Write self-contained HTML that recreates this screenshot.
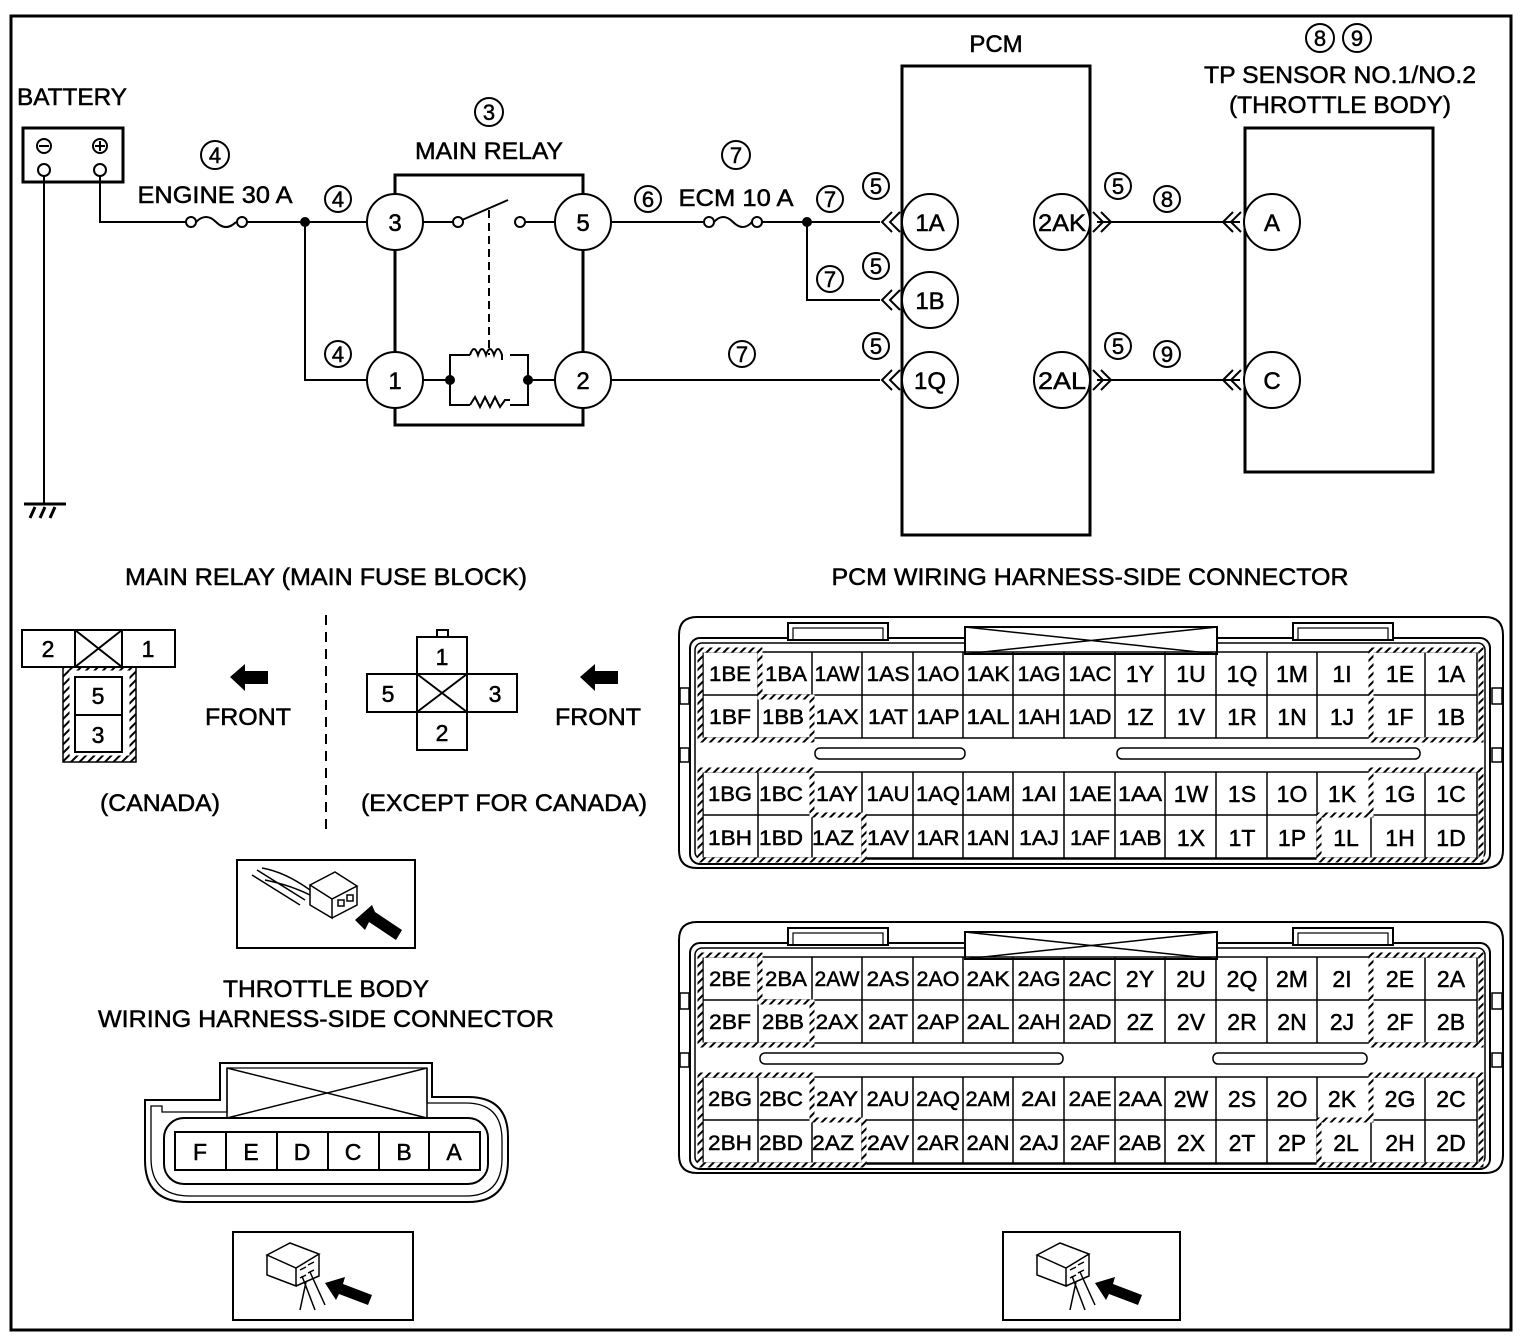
<!DOCTYPE html>
<html><head><meta charset="utf-8"><style>
html,body{margin:0;padding:0;background:#fff}
svg{display:block}
text{font-family:"Liberation Sans",Arial,sans-serif;fill:#000;stroke:#000;stroke-width:0.5}
.c{text-anchor:middle}
.p{font-size:21px;text-anchor:middle}
</style></head><body>
<svg width="1526" height="1342" viewBox="0 0 1526 1342" xmlns="http://www.w3.org/2000/svg">
<defs>
<pattern id="h" width="6" height="6" patternUnits="userSpaceOnUse" patternTransform="rotate(45)">
<rect width="6" height="6" fill="#fff"/><rect width="2" height="6" fill="#000"/></pattern>
<g id="shell" fill="none" stroke="#000">
<path d="M697,617 H1485 Q1503,617 1503,635 V850 Q1503,868 1485,868 H697 Q679,868 679,850 V635 Q679,617 697,617 Z" stroke-width="2"/>
<rect x="680" y="688" width="9" height="16" fill="#fff" stroke-width="1.5"/>
<rect x="680" y="748" width="9" height="14" fill="#fff" stroke-width="1.5"/>
<rect x="1492" y="688" width="10" height="16" fill="#fff" stroke-width="1.5"/>
<rect x="1492" y="748" width="10" height="14" fill="#fff" stroke-width="1.5"/>
<rect x="690" y="638" width="800" height="226" rx="10" stroke-width="2"/>
<rect x="695" y="643" width="790" height="216" rx="7" stroke-width="1.5"/>
<rect x="788" y="623" width="100" height="17" stroke-width="2" fill="#fff"/>
<rect x="793" y="628" width="90" height="12" stroke-width="1.2"/>
<rect x="1293" y="623" width="100" height="17" stroke-width="2" fill="#fff"/>
<rect x="1298" y="628" width="90" height="12" stroke-width="1.2"/>
<rect x="965" y="627" width="252" height="27" stroke-width="2" fill="#fff"/>
<path d="M965,654 L1217,627 M965,627 L1217,654" stroke-width="1.5"/>
<path d="M703,652 H1477 M703,695 H1477 M703,738 H1477 M703,772 H1477 M703,815 H1477 M703,858 H1477" stroke-width="1.5"/>
<path d="M703,652V738M758,652V738M812,652V738M862,652V738M913,652V738M963,652V738M1013,652V738M1064,652V738M1115,652V738M1165,652V738M1216,652V738M1267,652V738M1317,652V738M1371,652V738M1425,652V738M1477,652V738" stroke-width="1.5"/>
<path d="M703,772V858M758,772V858M812,772V858M862,772V858M913,772V858M963,772V858M1013,772V858M1064,772V858M1115,772V858M1165,772V858M1216,772V858M1267,772V858M1317,772V858M1371,772V858M1425,772V858M1477,772V858" stroke-width="1.5"/>
<g stroke="url(#h)" stroke-width="5">
<path d="M700,650 H760 V697 H812 V740 H700 Z"/>
<path d="M1371,650 H1481 V740 H1371 Z"/>
<path d="M700,770 H812 V815 H864 V860 H700 Z"/>
<path d="M1371,770 H1481 V860 H1319 V815 H1371 Z"/>
</g>
</g>
</defs>

<rect x="11" y="16" width="1500" height="1314" fill="none" stroke="#000" stroke-width="3"/>

<g fill="none" stroke="#000" stroke-width="2">
<rect x="23" y="128" width="100" height="54" stroke-width="3"/>
<circle cx="44" cy="146" r="7"/><path d="M39,146H49"/>
<circle cx="100" cy="146" r="7"/><path d="M95,146H105M100,141V151"/>
<circle cx="44" cy="170" r="6" fill="#fff"/><circle cx="100" cy="170" r="6" fill="#fff"/>
<path d="M44,176V504"/>
<path d="M24,504H66" stroke-width="3"/>
<path d="M30,518L35,507M40,518L45,507M50,518L55,507" stroke-width="3"/>
<path d="M100,176V222H186"/>
<circle cx="191" cy="222" r="5"/><path d="M196,222 Q206,212 216,222 Q226,232 236,222"/><circle cx="242" cy="222" r="5"/>
<path d="M247,222H367"/>
<path d="M305,222V380H367"/>
<rect x="395" y="175" width="188" height="250" stroke-width="3"/>
<circle cx="395" cy="222" r="28" fill="#fff"/><circle cx="583" cy="222" r="28" fill="#fff"/>
<circle cx="395" cy="380" r="28" fill="#fff"/><circle cx="583" cy="380" r="28" fill="#fff"/>
<path d="M423,222H453"/><circle cx="458" cy="222" r="5"/><path d="M462,220L508,200"/><circle cx="520" cy="222" r="5"/><path d="M525,222H555"/>
<path d="M489,210V355" stroke-dasharray="8 5"/>
<path d="M423,380H450V355H470 M450,380V405H470 M510,355H528V380H555 M510,405H528V380"/>
<path d="M470,355 q4,-12 8,0 q4,-12 8,0 q4,-12 8,0 q4,-12 8,0 v5"/>
<path d="M470,405 l5,-8 l5,10 l5,-10 l5,10 l5,-10 l5,10 l5,-7 h5"/>
<path d="M611,222H705"/>
<circle cx="709" cy="222" r="5"/><path d="M714,222 Q723,212 733,222 Q743,232 752,222"/><circle cx="757" cy="222" r="5"/>
<path d="M762,222H880 M807,222V300H880 M611,380H880"/>
<rect x="902" y="66" width="188" height="469" stroke-width="3"/>
<rect x="1245" y="128" width="188" height="344" stroke-width="3"/>
<circle cx="930" cy="222" r="28" fill="#fff"/><circle cx="930" cy="300" r="28" fill="#fff"/><circle cx="930" cy="380" r="28" fill="#fff"/>
<circle cx="1062" cy="222" r="28" fill="#fff"/><circle cx="1062" cy="380" r="28" fill="#fff"/>
<circle cx="1272" cy="222" r="28" fill="#fff"/><circle cx="1272" cy="380" r="28" fill="#fff"/>
<path d="M1097,222H1240 M1097,380H1240"/>
</g>
<g fill="#000">
<circle cx="305" cy="222" r="5"/><circle cx="807" cy="222" r="5"/>
<circle cx="450" cy="380" r="5"/><circle cx="528" cy="380" r="5"/>
</g>
<g fill="none" stroke="#000" stroke-width="2">
<path d="M892,212L882,222L892,232M900,212L890,222L900,232"/>
<path d="M892,290L882,300L892,310M900,290L890,300L900,310"/>
<path d="M892,370L882,380L892,390M900,370L890,380L900,390"/>
<path d="M1093,212L1103,222L1093,232M1101,212L1111,222L1101,232"/>
<path d="M1093,370L1103,380L1093,390M1101,370L1111,380L1101,390"/>
<path d="M1233,212L1223,222L1233,232M1241,212L1231,222L1241,232"/>
<path d="M1233,370L1223,380L1233,390M1241,370L1231,380L1241,390"/>
</g>
<g font-size="24">
<text x="395" y="231" class="c">3</text><text x="583" y="231" class="c">5</text>
<text x="395" y="389" class="c">1</text><text x="583" y="389" class="c">2</text>
<text x="930" y="231" class="c">1A</text><text x="930" y="309" class="c">1B</text><text x="930" y="389" class="c">1Q</text>
<text x="1062" y="231" class="c" textLength="48" lengthAdjust="spacingAndGlyphs">2AK</text>
<text x="1062" y="389" class="c" textLength="48" lengthAdjust="spacingAndGlyphs">2AL</text>
<text x="1272" y="231" class="c">A</text><text x="1272" y="389" class="c">C</text>
</g>
<g fill="none" stroke="#000" stroke-width="2">
<circle cx="215" cy="155" r="14"/><circle cx="338" cy="199" r="13"/><circle cx="489" cy="112" r="14"/>
<circle cx="648" cy="199" r="13"/><circle cx="736" cy="155" r="14"/><circle cx="830" cy="199" r="13"/>
<circle cx="876" cy="186" r="13"/><circle cx="830" cy="279" r="13"/><circle cx="876" cy="266" r="13"/>
<circle cx="338" cy="354" r="13"/><circle cx="742" cy="354" r="13"/><circle cx="876" cy="346" r="13"/>
<circle cx="1118" cy="186" r="13"/><circle cx="1167" cy="199" r="13"/><circle cx="1118" cy="346" r="13"/><circle cx="1167" cy="354" r="13"/>
<circle cx="1320" cy="38" r="14"/><circle cx="1357" cy="38" r="14"/>
</g>
<g font-size="22" text-anchor="middle">
<text x="215" y="163">4</text><text x="338" y="207">4</text><text x="489" y="120">3</text>
<text x="648" y="207">6</text><text x="736" y="163">7</text><text x="830" y="207">7</text>
<text x="876" y="194">5</text><text x="830" y="287">7</text><text x="876" y="274">5</text>
<text x="338" y="362">4</text><text x="742" y="362">7</text><text x="876" y="354">5</text>
<text x="1118" y="194">5</text><text x="1167" y="207">8</text><text x="1118" y="354">5</text><text x="1167" y="362">9</text>
<text x="1320" y="46">8</text><text x="1357" y="46">9</text>
</g>
<g font-size="24">
<text x="17" y="105" textLength="110" lengthAdjust="spacingAndGlyphs">BATTERY</text>
<text x="215" y="203" class="c" textLength="155" lengthAdjust="spacingAndGlyphs">ENGINE 30 A</text>
<text x="489" y="159" class="c" textLength="148" lengthAdjust="spacingAndGlyphs">MAIN RELAY</text>
<text x="736" y="206" class="c" textLength="115" lengthAdjust="spacingAndGlyphs">ECM 10 A</text>
<text x="996" y="52" class="c">PCM</text>
<text x="1340" y="83" class="c" textLength="272" lengthAdjust="spacingAndGlyphs">TP SENSOR NO.1/NO.2</text>
<text x="1340" y="113" class="c" textLength="222" lengthAdjust="spacingAndGlyphs">(THROTTLE BODY)</text>
<text x="326" y="585" class="c" textLength="402" lengthAdjust="spacingAndGlyphs">MAIN RELAY (MAIN FUSE BLOCK)</text>
<text x="1090" y="585" class="c" textLength="517" lengthAdjust="spacingAndGlyphs">PCM WIRING HARNESS-SIDE CONNECTOR</text>
<text x="248" y="725" class="c" textLength="86" lengthAdjust="spacingAndGlyphs">FRONT</text>
<text x="598" y="725" class="c" textLength="86" lengthAdjust="spacingAndGlyphs">FRONT</text>
<text x="160" y="811" class="c" textLength="120" lengthAdjust="spacingAndGlyphs">(CANADA)</text>
<text x="504" y="811" class="c" textLength="286" lengthAdjust="spacingAndGlyphs">(EXCEPT FOR CANADA)</text>
<text x="326" y="997" class="c" textLength="206" lengthAdjust="spacingAndGlyphs">THROTTLE BODY</text>
<text x="326" y="1027" class="c" textLength="456" lengthAdjust="spacingAndGlyphs">WIRING HARNESS-SIDE CONNECTOR</text>
</g>

<path d="M326,615V835" stroke="#000" stroke-width="2" stroke-dasharray="10 7"/>
<g fill="none" stroke="#000" stroke-width="2">
<rect x="66" y="667" width="67" height="92" stroke="url(#h)" stroke-width="7"/>
<rect x="63" y="664" width="73" height="98" stroke-width="1.5"/>
<rect x="22" y="630" width="153" height="37" fill="#fff"/>
<path d="M75,630V667M122,630V667M75,630L122,667M122,630L75,667"/>
<rect x="75" y="677" width="47" height="75"/><path d="M75,715H122"/>
<rect x="437" y="630" width="11" height="7"/>
<rect x="417" y="637" width="50" height="113"/>
<rect x="367" y="674" width="150" height="38"/>
<path d="M417,674V712M467,674V712M417,674L467,712M467,674L417,712"/>
</g>
<g font-size="23" text-anchor="middle">
<text x="48" y="657">2</text><text x="148" y="657">1</text><text x="98" y="704">5</text><text x="98" y="743">3</text>
<text x="442" y="665">1</text><text x="388" y="702">5</text><text x="495" y="702">3</text><text x="442" y="741">2</text>
</g>
<path d="M230,677L245,664V671H268V684H245V691Z" fill="#000"/>
<path d="M580,677L595,664V671H618V684H595V691Z" fill="#000"/>

<rect x="237" y="860" width="178" height="88" fill="none" stroke="#000" stroke-width="2"/>
<g fill="none" stroke="#000" stroke-width="1.5">
<path d="M252,875L300,905M257,870L305,900M262,868 Q285,872 310,890M265,880 Q290,885 310,895"/>
<path d="M310,885L335,872L357,886L332,899Z M310,885V905L332,918V899 M332,918L357,905V886"/>
<path d="M338,900h6v6h-6zM347,895h6v6h-6z"/>
</g>
<path d="M355,920L372,905L375,912L402,930L396,940L369,922L365,930Z" fill="#000"/>

<rect x="233" y="1232" width="180" height="88" fill="none" stroke="#000" stroke-width="2"/>
<rect x="1003" y="1232" width="177" height="88" fill="none" stroke="#000" stroke-width="2"/>
<g fill="none" stroke="#000" stroke-width="1.5">
<path d="M267,1255L290,1243L319,1254L296,1268Z M267,1255V1275L296,1286V1268 M296,1286L319,1276V1254"/>
<path d="M300,1270l6,-3M308,1265l6,-3M300,1278l6,-3M308,1273l6,-3M302,1276L315,1310M310,1272L325,1305M306,1282L300,1310"/>
<path d="M1037,1255L1060,1243L1089,1254L1066,1268Z M1037,1255V1275L1066,1286V1268 M1066,1286L1089,1276V1254"/>
<path d="M1070,1270l6,-3M1078,1265l6,-3M1070,1278l6,-3M1078,1273l6,-3M1072,1276L1085,1310M1080,1272L1095,1305M1076,1282L1070,1310"/>
</g>
<path d="M325,1283L345,1277L343,1284L372,1295L368,1305L339,1294L336,1300Z" fill="#000"/>
<path d="M1095,1283L1115,1277L1113,1284L1142,1295L1138,1305L1109,1294L1106,1300Z" fill="#000"/>

<g fill="none" stroke="#000" stroke-width="2">
<path d="M222,1063H432V1097H468 Q508,1097 508,1137V1160 Q508,1202 468,1202H187 Q145,1202 145,1160V1100H220V1063Z"/>
<path d="M227,1068H427V1103H466 Q502,1103 502,1140V1158 Q502,1196 466,1196H190 Q151,1196 151,1158V1106H162V1112H227Z" stroke-width="1.3"/>
<path d="M227,1068V1118M427,1068V1118M227,1118L427,1068M227,1068L427,1118" stroke-width="1.5"/>
<rect x="164" y="1118" width="324" height="66" rx="20"/>
<rect x="175" y="1132" width="305" height="38"/>
<path d="M226,1132V1170M277,1132V1170M328,1132V1170M379,1132V1170M429,1132V1170"/>
</g>
<g font-size="23" text-anchor="middle">
<text x="200" y="1160">F</text><text x="251" y="1160">E</text><text x="302" y="1160">D</text><text x="353" y="1160">C</text><text x="404" y="1160">B</text><text x="454" y="1160">A</text>
</g>

<use href="#shell"/>
<rect x="815" y="748" width="150" height="11" rx="5" fill="none" stroke="#000" stroke-width="1.5"/>
<rect x="1117" y="748" width="303" height="11" rx="5" fill="none" stroke="#000" stroke-width="1.5"/>
<g class="p">
<text x="730" y="681" textLength="42" lengthAdjust="spacingAndGlyphs">1BE</text><text x="786" y="681" textLength="42" lengthAdjust="spacingAndGlyphs">1BA</text><text x="837" y="681" textLength="45" lengthAdjust="spacingAndGlyphs">1AW</text><text x="888" y="681" textLength="43" lengthAdjust="spacingAndGlyphs">1AS</text><text x="938" y="681" textLength="43" lengthAdjust="spacingAndGlyphs">1AO</text><text x="988" y="681" textLength="43" lengthAdjust="spacingAndGlyphs">1AK</text><text x="1039" y="681" textLength="43" lengthAdjust="spacingAndGlyphs">1AG</text><text x="1090" y="681" textLength="43" lengthAdjust="spacingAndGlyphs">1AC</text><text x="1140" y="682" font-size="23">1Y</text><text x="1191" y="682" font-size="23">1U</text><text x="1242" y="682" font-size="23">1Q</text><text x="1292" y="682" font-size="23">1M</text><text x="1342" y="682" font-size="23">1I</text><text x="1400" y="682" font-size="23">1E</text><text x="1451" y="682" font-size="23">1A</text>
<text x="730" y="724" textLength="42" lengthAdjust="spacingAndGlyphs">1BF</text><text x="783" y="724" textLength="42" lengthAdjust="spacingAndGlyphs">1BB</text><text x="837" y="724" textLength="43" lengthAdjust="spacingAndGlyphs">1AX</text><text x="888" y="724" textLength="40" lengthAdjust="spacingAndGlyphs">1AT</text><text x="938" y="724" textLength="43" lengthAdjust="spacingAndGlyphs">1AP</text><text x="988" y="724" textLength="43" lengthAdjust="spacingAndGlyphs">1AL</text><text x="1039" y="724" textLength="43" lengthAdjust="spacingAndGlyphs">1AH</text><text x="1090" y="724" textLength="43" lengthAdjust="spacingAndGlyphs">1AD</text><text x="1140" y="725" font-size="23">1Z</text><text x="1191" y="725" font-size="23">1V</text><text x="1242" y="725" font-size="23">1R</text><text x="1292" y="725" font-size="23">1N</text><text x="1342" y="725" font-size="23">1J</text><text x="1400" y="725" font-size="23">1F</text><text x="1451" y="725" font-size="23">1B</text>
<text x="730" y="801" textLength="44" lengthAdjust="spacingAndGlyphs">1BG</text><text x="781" y="801" textLength="44" lengthAdjust="spacingAndGlyphs">1BC</text><text x="837" y="801" textLength="42" lengthAdjust="spacingAndGlyphs">1AY</text><text x="888" y="801" textLength="43" lengthAdjust="spacingAndGlyphs">1AU</text><text x="938" y="801" textLength="44" lengthAdjust="spacingAndGlyphs">1AQ</text><text x="988" y="801" textLength="45" lengthAdjust="spacingAndGlyphs">1AM</text><text x="1039" y="801" textLength="36" lengthAdjust="spacingAndGlyphs">1AI</text><text x="1090" y="801" textLength="43" lengthAdjust="spacingAndGlyphs">1AE</text><text x="1140" y="801" textLength="44" lengthAdjust="spacingAndGlyphs">1AA</text><text x="1191" y="802" font-size="23">1W</text><text x="1242" y="802" font-size="23">1S</text><text x="1292" y="802" font-size="23">1O</text><text x="1342" y="802" font-size="23">1K</text><text x="1400" y="802" font-size="23">1G</text><text x="1451" y="802" font-size="23">1C</text>
<text x="730" y="845" textLength="44" lengthAdjust="spacingAndGlyphs">1BH</text><text x="781" y="845" textLength="44" lengthAdjust="spacingAndGlyphs">1BD</text><text x="833" y="845" textLength="42" lengthAdjust="spacingAndGlyphs">1AZ</text><text x="888" y="845" textLength="42" lengthAdjust="spacingAndGlyphs">1AV</text><text x="938" y="845" textLength="43" lengthAdjust="spacingAndGlyphs">1AR</text><text x="988" y="845" textLength="43" lengthAdjust="spacingAndGlyphs">1AN</text><text x="1039" y="845" textLength="40" lengthAdjust="spacingAndGlyphs">1AJ</text><text x="1090" y="845" textLength="40" lengthAdjust="spacingAndGlyphs">1AF</text><text x="1140" y="845" textLength="43" lengthAdjust="spacingAndGlyphs">1AB</text><text x="1191" y="846" font-size="23">1X</text><text x="1242" y="846" font-size="23">1T</text><text x="1292" y="846" font-size="23">1P</text><text x="1346" y="846" font-size="23">1L</text><text x="1400" y="846" font-size="23">1H</text><text x="1451" y="846" font-size="23">1D</text>
</g>

<use href="#shell" transform="translate(0,305)"/>
<rect x="760" y="1053" width="303" height="11" rx="5" fill="none" stroke="#000" stroke-width="1.5"/>
<rect x="1213" y="1053" width="154" height="11" rx="5" fill="none" stroke="#000" stroke-width="1.5"/>
<g class="p">
<text x="730" y="986" textLength="42" lengthAdjust="spacingAndGlyphs">2BE</text><text x="786" y="986" textLength="42" lengthAdjust="spacingAndGlyphs">2BA</text><text x="837" y="986" textLength="45" lengthAdjust="spacingAndGlyphs">2AW</text><text x="888" y="986" textLength="43" lengthAdjust="spacingAndGlyphs">2AS</text><text x="938" y="986" textLength="43" lengthAdjust="spacingAndGlyphs">2AO</text><text x="988" y="986" textLength="43" lengthAdjust="spacingAndGlyphs">2AK</text><text x="1039" y="986" textLength="43" lengthAdjust="spacingAndGlyphs">2AG</text><text x="1090" y="986" textLength="43" lengthAdjust="spacingAndGlyphs">2AC</text><text x="1140" y="987" font-size="23">2Y</text><text x="1191" y="987" font-size="23">2U</text><text x="1242" y="987" font-size="23">2Q</text><text x="1292" y="987" font-size="23">2M</text><text x="1342" y="987" font-size="23">2I</text><text x="1400" y="987" font-size="23">2E</text><text x="1451" y="987" font-size="23">2A</text>
<text x="730" y="1029" textLength="42" lengthAdjust="spacingAndGlyphs">2BF</text><text x="783" y="1029" textLength="42" lengthAdjust="spacingAndGlyphs">2BB</text><text x="837" y="1029" textLength="43" lengthAdjust="spacingAndGlyphs">2AX</text><text x="888" y="1029" textLength="40" lengthAdjust="spacingAndGlyphs">2AT</text><text x="938" y="1029" textLength="43" lengthAdjust="spacingAndGlyphs">2AP</text><text x="988" y="1029" textLength="43" lengthAdjust="spacingAndGlyphs">2AL</text><text x="1039" y="1029" textLength="43" lengthAdjust="spacingAndGlyphs">2AH</text><text x="1090" y="1029" textLength="43" lengthAdjust="spacingAndGlyphs">2AD</text><text x="1140" y="1030" font-size="23">2Z</text><text x="1191" y="1030" font-size="23">2V</text><text x="1242" y="1030" font-size="23">2R</text><text x="1292" y="1030" font-size="23">2N</text><text x="1342" y="1030" font-size="23">2J</text><text x="1400" y="1030" font-size="23">2F</text><text x="1451" y="1030" font-size="23">2B</text>
<text x="730" y="1106" textLength="44" lengthAdjust="spacingAndGlyphs">2BG</text><text x="781" y="1106" textLength="44" lengthAdjust="spacingAndGlyphs">2BC</text><text x="837" y="1106" textLength="42" lengthAdjust="spacingAndGlyphs">2AY</text><text x="888" y="1106" textLength="43" lengthAdjust="spacingAndGlyphs">2AU</text><text x="938" y="1106" textLength="44" lengthAdjust="spacingAndGlyphs">2AQ</text><text x="988" y="1106" textLength="45" lengthAdjust="spacingAndGlyphs">2AM</text><text x="1039" y="1106" textLength="36" lengthAdjust="spacingAndGlyphs">2AI</text><text x="1090" y="1106" textLength="43" lengthAdjust="spacingAndGlyphs">2AE</text><text x="1140" y="1106" textLength="44" lengthAdjust="spacingAndGlyphs">2AA</text><text x="1191" y="1107" font-size="23">2W</text><text x="1242" y="1107" font-size="23">2S</text><text x="1292" y="1107" font-size="23">2O</text><text x="1342" y="1107" font-size="23">2K</text><text x="1400" y="1107" font-size="23">2G</text><text x="1451" y="1107" font-size="23">2C</text>
<text x="730" y="1150" textLength="44" lengthAdjust="spacingAndGlyphs">2BH</text><text x="781" y="1150" textLength="44" lengthAdjust="spacingAndGlyphs">2BD</text><text x="833" y="1150" textLength="42" lengthAdjust="spacingAndGlyphs">2AZ</text><text x="888" y="1150" textLength="42" lengthAdjust="spacingAndGlyphs">2AV</text><text x="938" y="1150" textLength="43" lengthAdjust="spacingAndGlyphs">2AR</text><text x="988" y="1150" textLength="43" lengthAdjust="spacingAndGlyphs">2AN</text><text x="1039" y="1150" textLength="40" lengthAdjust="spacingAndGlyphs">2AJ</text><text x="1090" y="1150" textLength="40" lengthAdjust="spacingAndGlyphs">2AF</text><text x="1140" y="1150" textLength="43" lengthAdjust="spacingAndGlyphs">2AB</text><text x="1191" y="1151" font-size="23">2X</text><text x="1242" y="1151" font-size="23">2T</text><text x="1292" y="1151" font-size="23">2P</text><text x="1346" y="1151" font-size="23">2L</text><text x="1400" y="1151" font-size="23">2H</text><text x="1451" y="1151" font-size="23">2D</text>
</g>
</svg>
</body></html>
